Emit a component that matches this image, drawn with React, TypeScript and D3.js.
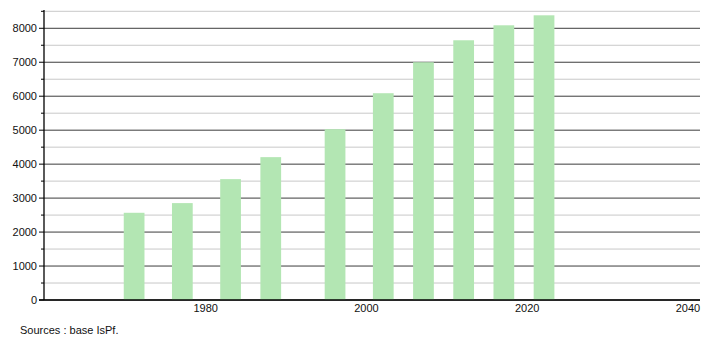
import React from "react";
import * as d3 from "d3";

const years = [1971, 1977, 1983, 1988, 1996, 2002, 2007, 2012, 2017, 2022];
const population = [2568, 2853, 3559, 4206, 5029, 6088, 7000, 7647, 8088, 8382];
const yMajorTicks = [0, 1000, 2000, 3000, 4000, 5000, 6000, 7000, 8000];
const yMinorTicks = [500, 1500, 2500, 3500, 4500, 5500, 6500, 7500, 8500];
const xTicks = [1980, 2000, 2020, 2040];
const sourceText = "Sources : base IsPf.";

export default function App() {
  const W = 710, H = 340;
  const left = 44, right = 700, top = 10, bottom = 300;
  const x = d3.scaleLinear().domain([1960, 2040]).range([44.9, 687.9]);
  const y = d3.scaleLinear().domain([0, 8500]).range([bottom, 11.3]);
  const halfW = 1.29;
  const font = "'Liberation Sans', Arial, sans-serif";
  return (
    <svg width={W} height={H} style={{ position: "absolute", left: 0, top: 0 }} fontFamily={font}>
      <rect width={W} height={H} fill="#fff" />
      {yMinorTicks.map((t) => (
        <g key={"mi" + t}>
          <line x1={left} x2={right} y1={y(t)} y2={y(t)} stroke="#c8c8c8" strokeWidth={1} />
          <line x1={left - 3} x2={left} y1={y(t)} y2={y(t)} stroke="#000" strokeWidth={1} />
        </g>
      ))}
      {yMajorTicks.map((t) => (
        <g key={"ma" + t}>
          <line x1={left} x2={right} y1={y(t)} y2={y(t)} stroke="#3c3c3c" strokeWidth={1} />
          <line x1={left - 5} x2={left} y1={y(t)} y2={y(t)} stroke="#000" strokeWidth={1} />
          <text x={37} y={y(t)} dy="0.35em" textAnchor="end" fontSize={11} fill="#111">{t}</text>
        </g>
      ))}
      {years.map((yr, i) => (
        <rect
          key={yr}
          x={x(yr + 0.1 - halfW)}
          width={x(yr + halfW) - x(yr - halfW)}
          y={y(population[i])}
          height={bottom - y(population[i])}
          fill="#b3e6b3"
        />
      ))}
      <line x1={left} x2={left} y1={top} y2={bottom} stroke="#000" strokeWidth={1.3} />
      <line x1={left - 5} x2={right} y1={bottom} y2={bottom} stroke="#000" strokeWidth={1.3} />
      {xTicks.map((t) => (
        <text key={t} x={x(t)} y={308} dy="0.35em" textAnchor="middle" fontSize={11} fill="#111">{t}</text>
      ))}
      <text x={20} y={330} dy="0.35em" fontSize={11} fill="#111">{sourceText}</text>
    </svg>
  );
}
